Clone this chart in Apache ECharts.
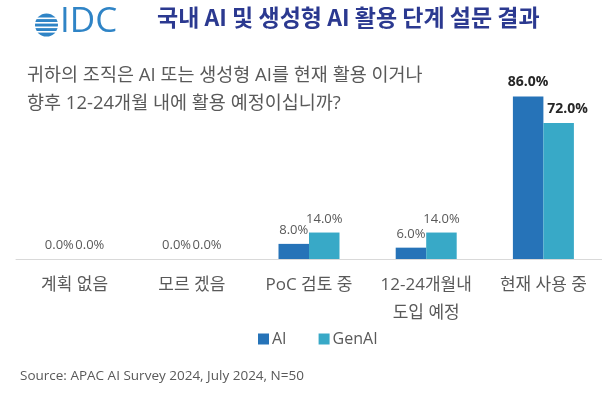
<!DOCTYPE html>
<html>
<head>
<meta charset="utf-8">
<title>국내 AI 및 생성형 AI 활용 단계 설문 결과</title>
<script src="https://cdn.jsdelivr.net/npm/echarts@6/dist/echarts.min.js"></script>
<style>
    html, body { margin: 0; padding: 0; background: #fff; }
    #chart { width: 602px; height: 396px; }
</style>
</head>
<body>
<div id="chart"></div>
<script>
var categories = ['계획 없음', '모르 겠음', 'PoC 검토 중', '12-24개월내\n도입 예정', '현재 사용 중'];
var aiValues = [0, 0, 8, 6, 86];
var genAiValues = [0, 0, 14, 14, 72];
var seriesNames = ['AI', 'GenAI'];

(function () {
    var font = '"Open Sans", "Noto Sans CJK KR", sans-serif';
    var gray = '#595959';

    // 마지막 항목(현재 사용 중)은 굵게 표시
    function toItems(values, offsetX) {
        return values.map(function (v, i) {
            if (i !== values.length - 1) return v;
            return {
                value: v,
                label: { fontWeight: 'bold', color: '#262626', fontSize: 14, offset: [offsetX, 0] }
            };
        });
    }

    var barLabel = {
        show: true,
        position: 'top',
        distance: 7,
        fontFamily: font,
        fontSize: 13,
        color: gray,
        formatter: function (p) { return p.value.toFixed(1) + '%'; }
    };

    var option = {
        backgroundColor: '#fff',
        animation: false,
        textStyle: { fontFamily: font },
        grid: { left: 16, right: 0, top: 70, bottom: 137 },
        legend: {
            left: 253,
            top: 326,
            itemWidth: 11,
            itemHeight: 11,
            itemGap: 32,
            icon: 'rect',
            textStyle: { fontFamily: font, fontSize: 16, color: gray, padding: [0, 0, 0, -2] },
            data: seriesNames
        },
        xAxis: {
            type: 'category',
            data: categories,
            axisLine: { lineStyle: { color: '#d9d9d9' } },
            axisTick: { show: false },
            axisLabel: { interval: 0, fontFamily: font, fontSize: 17, color: gray, lineHeight: 28, margin: 12 }
        },
        yAxis: {
            type: 'value',
            min: 0,
            max: 100,
            show: false,
            splitLine: { show: false }
        },
        series: [
            {
                name: seriesNames[0],
                type: 'bar',
                barWidth: 30.5,
                barGap: '0%',
                itemStyle: { color: '#2673b8' },
                label: barLabel,
                data: toItems(aiValues, 0)
            },
            {
                name: seriesNames[1],
                type: 'bar',
                barWidth: 30.5,
                itemStyle: { color: '#38a9c7' },
                label: barLabel,
                data: toItems(genAiValues, 9)
            }
        ],
        graphic: [
            // IDC 로고
            {
                type: 'group',
                left: 35,
                top: 5,
                children: [
                    { type: 'circle', shape: { cx: 11.5, cy: 12, r: 11.5 }, style: { fill: '#2f84c6' } },
                    { type: 'rect', shape: { x: 0, y: 4.5, width: 23, height: 1.6 }, style: { fill: '#fff' } },
                    { type: 'rect', shape: { x: 0, y: 9, width: 23, height: 1.6 }, style: { fill: '#fff' } },
                    { type: 'rect', shape: { x: 0, y: 13.5, width: 23, height: 1.6 }, style: { fill: '#fff' } },
                    { type: 'rect', shape: { x: 0, y: 18, width: 23, height: 1.6 }, style: { fill: '#fff' } },
                    {
                        type: 'text', x: 25, y: -8,
                        style: { text: 'IDC', font: '400 35px "Open Sans", sans-serif', fill: '#2f84c6' }
                    }
                ]
            },
            {
                type: 'text',
                left: 157,
                top: 6,
                style: {
                    text: '국내 AI 및 생성형 AI 활용 단계 설문 결과',
                    font: 'bold 23px "Noto Sans CJK KR", sans-serif',
                    fill: '#2b3990'
                }
            },
            {
                type: 'text',
                left: 27,
                top: 62,
                style: {
                    text: '귀하의 조직은 AI 또는 생성형 AI를 현재 활용 이거나\n향후 12-24개월 내에 활용 예정이십니까?',
                    font: '18.5px "Open Sans", "Noto Sans CJK KR", sans-serif',
                    lineHeight: 28,
                    fill: gray
                }
            },
            {
                type: 'text',
                left: 20,
                top: 369,
                style: {
                    text: 'Source: APAC AI Survey 2024, July 2024, N=50',
                    font: '13.5px "Open Sans", sans-serif',
                    fill: gray
                }
            }
        ]
    };

    var myChart = echarts.init(document.getElementById('chart'));
    myChart.setOption(option);
})();
</script>
</body>
</html>
